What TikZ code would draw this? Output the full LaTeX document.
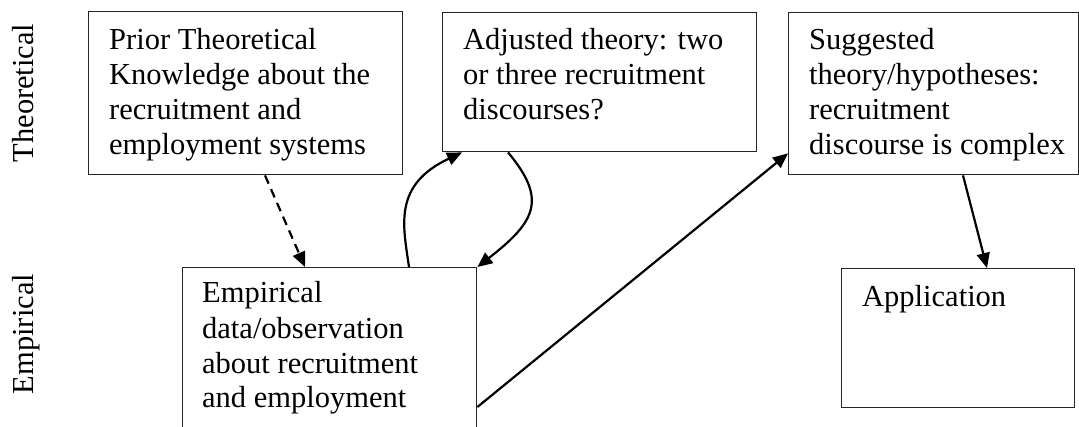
\documentclass[tikz,border=0pt]{standalone}
\usepackage{fontspec}
\setmainfont{Liberation Serif}
\usetikzlibrary{arrows.meta,calc}
\begin{document}
\begin{tikzpicture}[x=1pt,y=-1pt,
  box/.style={draw=black!85, line width=1.4pt, inner sep=0pt, anchor=north west},
  txt/.style={inner sep=0pt, anchor=base west, align=left, font=\fontsize{30.5}{35}\selectfont},
  side/.style={inner sep=0pt, anchor=base, rotate=90, font=\fontsize{30.5}{35}\selectfont},
  link/.style={line width=2.2pt, -{Triangle[length=15pt,width=13pt]}}]
\useasboundingbox (0,0) rectangle (1079,427);
\begin{scope}
\clip (0,0) rectangle (1079,427);

% row labels
\node[side] (lt) at (33,93) {Theoretical};
\node[side] (le) at (33,334) {Empirical};

% boxes
\node[box, minimum width=314pt, minimum height=163pt] (prior) at (88,11) {};
\node[box, minimum width=314pt, minimum height=139pt] (adj) at (442,12) {};
\node[box, minimum width=290pt, minimum height=162pt] (sug) at (788,12) {};
\node[box, minimum width=233pt, minimum height=139pt] (app) at (841,268) {};
\node[box, minimum width=294pt, minimum height=200pt] (emp) at (182,267) {};

% box texts (anchored on the baseline of the last line)
\node[txt] (priort) at (109,155) {Prior Theoretical\\Knowledge about the\\recruitment and\\employment systems};
\node[txt] (adjt) at (463,120) {Adjusted theory: two\\or three recruitment\\discourses?};
\node[txt] (sugt) at (809,155) {Suggested\\theory/hypotheses:\\recruitment\\discourse is complex};
\node[txt] (appt) at (862,307) {Application};
\node[txt] (empt) at (202,408) {Empirical\\data/observation\\about recruitment\\and employment};

% connector end points on the box borders
\coordinate (p1) at ($(prior.south west)+(177,0)$);
\coordinate (e0) at ($(emp.north west)+(123,0)$);
\coordinate (e1) at ($(emp.north west)+(227,0)$);
\coordinate (a1) at ($(adj.south west)+(20,0)$);
\coordinate (a2) at ($(adj.south west)+(66,0)$);
\coordinate (e3) at ($(emp.north east)+(0,140)$);
\coordinate (s1) at ($(sug.south west)+(0,-22)$);
\coordinate (s2) at ($(sug.south west)+(175,0)$);
\coordinate (ap) at ($(app.north west)+(146,0)$);

% connectors
\draw[link, dash pattern=on 9pt off 6pt] (p1) -- (e0);
\draw[link] (e1) .. controls (403,225) and (393,185) .. (a1);
\draw[link] (a2) .. controls (548,200) and (535,222) .. (emp.north east);
\draw[link] (e3) -- (s1);
\draw[link] (s2) -- (ap);
\end{scope}
\end{tikzpicture}
\end{document}
